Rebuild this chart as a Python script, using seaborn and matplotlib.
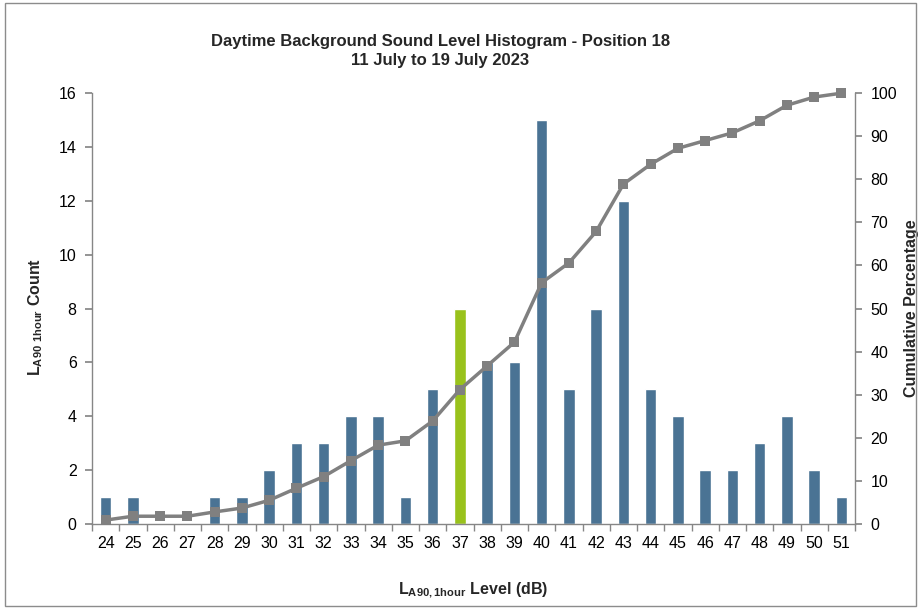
import matplotlib
matplotlib.use("Agg")
import matplotlib.pyplot as plt
import seaborn as sns
import pandas as pd
from matplotlib.patches import Rectangle
from matplotlib.ticker import MultipleLocator, FixedLocator

levels = [24, 25, 26, 27, 28, 29, 30, 31, 32, 33, 34, 35, 36, 37,
          38, 39, 40, 41, 42, 43, 44, 45, 46, 47, 48, 49, 50, 51]
counts = [1, 1, 0, 0, 1, 1, 2, 3, 3, 4, 4, 1, 5, 8,
          6, 6, 15, 5, 8, 12, 5, 4, 2, 2, 3, 4, 2, 1]
cumulative = [0.9, 1.8, 1.8, 1.8, 2.8, 3.7, 5.5, 8.3, 11.0, 14.7, 18.3, 19.3, 23.9, 31.2,
              36.7, 42.2, 56.0, 60.6, 67.9, 78.9, 83.5, 87.2, 89.0, 90.8, 93.6, 97.2, 99.1, 100.0]
highlight = 37

sns.set_theme(style="white")
plt.rcParams['font.family'] = ['Liberation Sans', 'DejaVu Sans']
plt.rcParams['mathtext.fontset'] = 'custom'
plt.rcParams['mathtext.rm'] = 'Liberation Sans'
plt.rcParams['mathtext.bf'] = 'Liberation Sans:bold'

blue = "#4A7394"
green = "#99C21C"
gray = "#808080"

df = pd.DataFrame({"level": [str(l) for l in levels], "count": counts,
                   "grp": ["hi" if l == highlight else "n" for l in levels]})

fig = plt.figure(figsize=(9.21, 6.09), dpi=100)
fig.patches.append(Rectangle((0.005, 0.005), 0.99, 0.99, transform=fig.transFigure,
                             fill=False, edgecolor="#8c8c8c", linewidth=1.0))
ax = fig.add_axes([0.0999, 0.1396, 0.8285, 0.7074])

sns.barplot(data=df, x="level", y="count", hue="grp", palette={"n": blue, "hi": green},
            dodge=False, width=0.42, legend=False, ax=ax, saturation=1)
ax.set_xlim(-0.5, len(levels) - 0.5)
ax.set_ylim(0, 16)
ax.yaxis.set_major_locator(MultipleLocator(2))

ax2 = ax.twinx()
sns.lineplot(x=list(range(len(levels))), y=cumulative, ax=ax2, color=gray, linewidth=2.5,
             marker="s", markersize=6.5, markeredgewidth=0, markerfacecolor=gray)
for ln in ax2.lines:
    ln.set_clip_on(False)
ax2.set_ylim(0, 100)
ax2.yaxis.set_major_locator(MultipleLocator(10))
ax2.set_xlim(-0.5, len(levels) - 0.5)

for s in ["top"]:
    ax.spines[s].set_visible(False)
    ax2.spines[s].set_visible(False)
ax.spines["right"].set_visible(False)
ax2.spines["left"].set_visible(False)
ax2.spines["bottom"].set_visible(False)
for sp in [ax.spines["left"], ax.spines["bottom"], ax2.spines["right"]]:
    sp.set_color("#868686")
    sp.set_linewidth(1.0)

ax.tick_params(axis="y", direction="out", length=5, color="#868686", left=True,
               labelsize=11.5, pad=6, labelcolor="black")
ax2.tick_params(axis="y", direction="out", length=5, color="#868686", right=True,
                labelsize=11.5, pad=6, labelcolor="black")
ax.set_xticks(range(len(levels)))
ax.set_xticklabels([str(l) for l in levels])
ax.tick_params(axis="x", which="major", length=0, labelsize=11.5, pad=9, labelcolor="black")
ax.xaxis.set_minor_locator(FixedLocator([i - 0.5 for i in range(len(levels) + 1)]))
ax.tick_params(axis="x", which="minor", direction="out", length=5, color="#868686", bottom=True)

ax.set_xlabel(r"$\mathbf{L_{A90,1hour}}$ Level (dB)", fontsize=11.5, fontweight="bold")
ax.xaxis.set_label_coords(0.499, -0.13)
ax.set_ylabel(r"$\mathbf{L_{A90\ 1hour}}$ Count", fontsize=11.5, fontweight="bold")
ax.yaxis.set_label_coords(-0.062, 0.48)
ax2.set_ylabel("Cumulative Percentage", fontsize=11.5, fontweight="bold")
ax2.yaxis.set_label_coords(1.064, 0.5)

fig.text(0.478, 0.916, "Daytime Background Sound Level Histogram - Position 18\n11 July to 19 July 2023",
         ha="center", va="center", fontsize=12, fontweight="bold", linespacing=1.3)

fig.savefig("out.png", dpi=100)
